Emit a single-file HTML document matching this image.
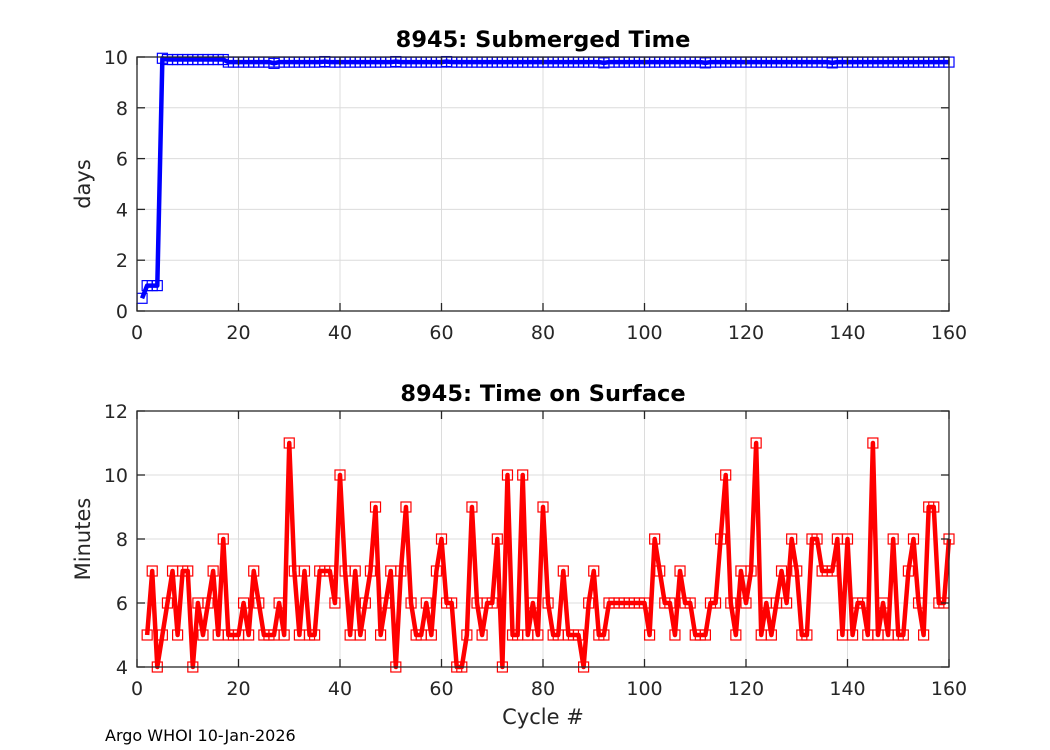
<!DOCTYPE html>
<html><head><meta charset="utf-8">
<style>
body{margin:0;background:#fff;}
svg{display:block;font-family:"DejaVu Sans","Liberation Sans",sans-serif;}
</style></head>
<body>
<svg id="fig" width="1050" height="750" viewBox="0 0 1050 750">
<rect width="1050" height="750" fill="#fff"/>
</svg>
<script>
const cyclesTop = Array.from({length:160},(_,i)=>i+1);
const daysValues = [0.5,1,1,1,9.95,9.9,9.9,9.9,9.9,9.9,9.9,9.9,9.9,9.9,9.9,9.9,9.9,9.8,9.8,9.8,
9.8,9.8,9.8,9.8,9.8,9.8,9.75,9.8,9.8,9.8,9.8,9.8,9.8,9.8,9.8,9.8,9.82,9.8,9.8,9.8,
9.8,9.8,9.8,9.8,9.8,9.8,9.8,9.8,9.8,9.8,9.82,9.8,9.8,9.8,9.8,9.8,9.8,9.8,9.8,9.8,
9.82,9.8,9.8,9.8,9.8,9.8,9.8,9.8,9.8,9.8,9.8,9.8,9.8,9.8,9.8,9.8,9.8,9.8,9.8,9.8,
9.8,9.8,9.8,9.8,9.8,9.8,9.8,9.8,9.8,9.8,9.8,9.77,9.8,9.8,9.8,9.8,9.8,9.8,9.8,9.8,
9.8,9.8,9.8,9.8,9.8,9.8,9.8,9.8,9.8,9.8,9.8,9.77,9.8,9.8,9.8,9.8,9.8,9.8,9.8,9.8,
9.8,9.8,9.8,9.8,9.8,9.8,9.8,9.8,9.8,9.8,9.8,9.8,9.8,9.8,9.8,9.8,9.77,9.8,9.8,9.8,
9.8,9.8,9.8,9.8,9.8,9.8,9.8,9.8,9.8,9.8,9.8,9.8,9.8,9.8,9.8,9.8,9.8,9.8,9.8,9.8];
const cyclesBot = Array.from({length:159},(_,i)=>i+2);
const minutesValues = [5,7,4,5,6,7,5,7,7,4,6,5,6,7,5,8,5,5,5,6,5,7,6,5,5,5,6,5,11,
7,5,7,5,5,7,7,7,6,10,7,5,7,5,6,7,9,5,6,7,4,7,9,6,5,5,6,5,7,8,
6,6,4,4,5,9,6,5,6,6,8,4,10,5,5,10,5,6,5,9,6,5,5,7,5,5,5,4,6,7,
5,5,6,6,6,6,6,6,6,6,5,8,7,6,6,5,7,6,6,5,5,5,6,6,8,10,6,5,7,6,
7,11,5,6,5,6,7,6,8,7,5,5,8,8,7,7,7,8,5,8,5,6,6,5,11,5,6,5,8,5,
5,7,8,6,5,9,9,6,6,8];
const xTicks=[0,20,40,60,80,100,120,140,160];
const yTicksTop=[0,2,4,6,8,10];
const yTicksBot=[4,6,8,10,12];

const svg=document.getElementById('fig');
const NS='http://www.w3.org/2000/svg';
function mk(tag,attrs,parent){const e=document.createElementNS(NS,tag);for(const k in attrs)e.setAttribute(k,attrs[k]);(parent||svg).appendChild(e);return e;}

function panel(cfg){
  const {L,R,T,B,ymin,ymax,yticks,xs,ys,color,title,ylabel,pfx}=cfg;
  const sx=v=>L+(v-0)/(160-0)*(R-L);
  const sy=v=>B-(v-ymin)/(ymax-ymin)*(B-T);
  const g=mk('g',{});
  
  
  xTicks.forEach(t=>{
    const l=mk('line',{x1:sx(t),x2:sx(t),y1:T,y2:B,stroke:'#dcdcdc','stroke-width':1},g);
    
    
  });
  yticks.forEach(t=>{
    const l=mk('line',{x1:L,x2:R,y1:sy(t),y2:sy(t),stroke:'#dcdcdc','stroke-width':1},g);
    
    
  });
  const pts=xs.map((x,i)=>sx(x).toFixed(2)+','+sy(ys[i]).toFixed(2)).join(' ');
  const pl=mk('polyline',{points:pts,fill:'none',stroke:color,'stroke-width':4.5,'stroke-linejoin':'round'},g);
  
  
  xs.forEach((x,i)=>{
    const r=mk('rect',{x:sx(x)-5,y:sy(ys[i])-5,width:10,height:10,fill:'none',stroke:color,'stroke-width':1.2},g);
    
    
  });
  const bx=mk('rect',{x:L,y:T,width:R-L,height:B-T,fill:'none',stroke:'#262626','stroke-width':1.3},g);
  
  
  xTicks.forEach(t=>{
    mk('line',{x1:sx(t),x2:sx(t),y1:B,y2:B-8,stroke:'#262626','stroke-width':1.3},g);
    mk('line',{x1:sx(t),x2:sx(t),y1:T,y2:T+8,stroke:'#262626','stroke-width':1.3},g);
    const tx=mk('text',{x:sx(t),y:B+28,'text-anchor':'middle','font-size':19,fill:'#262626'},g);
    tx.textContent=t;
    
    
  });
  yticks.forEach(t=>{
    mk('line',{x1:L,x2:L+8,y1:sy(t),y2:sy(t),stroke:'#262626','stroke-width':1.3},g);
    mk('line',{x1:R,x2:R-8,y1:sy(t),y2:sy(t),stroke:'#262626','stroke-width':1.3},g);
    const tx=mk('text',{x:L-9,y:sy(t)+7,'text-anchor':'end','font-size':19,fill:'#262626'},g);
    tx.textContent=t;
    
    
  });
  const ti=mk('text',{x:(L+R)/2,y:T-10,'text-anchor':'middle','font-size':22.5,'font-weight':'bold',fill:'#000'},g);
  ti.textContent=title;
  
  
  const cy=(T+B)/2;
  const yl=mk('text',{x:90,y:cy,'text-anchor':'middle','font-size':21,fill:'#262626',transform:`rotate(-90 90 ${cy})`},g);
  yl.textContent=ylabel;
  
  
}
panel({L:137,R:949,T:57,B:311,ymin:0,ymax:10,yticks:yTicksTop,xs:cyclesTop,ys:daysValues,color:'#0000ff',title:'8945: Submerged Time',ylabel:'days',pfx:'submerged'});
panel({L:137,R:949,T:411,B:667,ymin:4,ymax:12,yticks:yTicksBot,xs:cyclesBot,ys:minutesValues,color:'#ff0000',title:'8945: Time on Surface',ylabel:'Minutes',pfx:'surface'});
const xl=mk('text',{x:543,y:724,'text-anchor':'middle','font-size':21,fill:'#262626'});
xl.textContent='Cycle #';


const ft=mk('text',{x:105,y:741,'font-size':16,fill:'#000'});
ft.textContent='Argo WHOI 10-Jan-2026';


</script>
</body></html>
